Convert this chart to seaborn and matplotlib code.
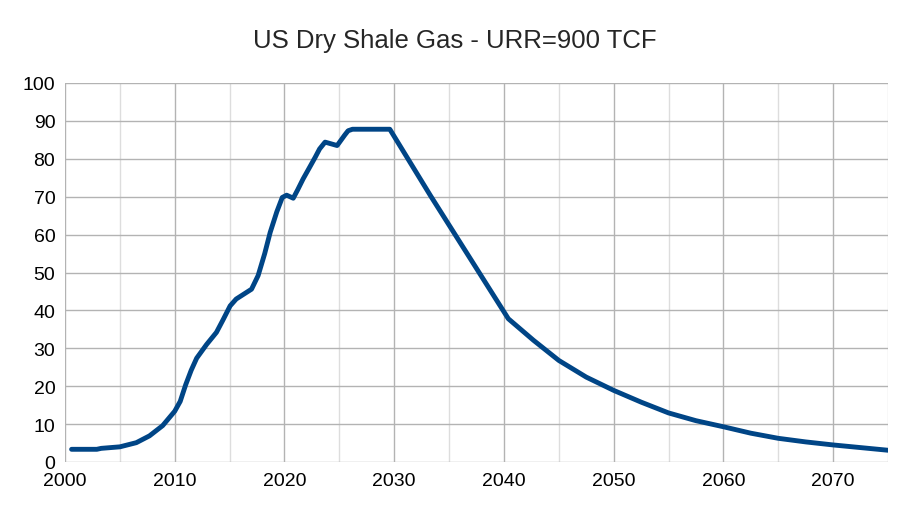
import matplotlib
matplotlib.use("Agg")
import matplotlib.pyplot as plt
import pandas as pd
import seaborn as sns
from matplotlib.ticker import MultipleLocator

TITLE = "US Dry Shale Gas - URR=900 TCF"
LINE_COLOR = "#004586"

# values
YEARS = [2000.6, 2002.9, 2003.3, 2005.0, 2006.5, 2007.7, 2008.9, 2010.0,
         2010.5, 2011.0, 2011.5, 2012.0, 2012.9, 2013.8, 2014.4, 2015.05, 2015.6,
         2016.3, 2017.0, 2017.6, 2018.2, 2018.7, 2019.3, 2019.8, 2020.2, 2020.8,
         2021.2, 2021.7, 2022.3, 2022.8, 2023.2, 2023.7, 2024.8, 2025.5, 2025.8,
         2026.2, 2029.6, 2033.3, 2040.4, 2042.7, 2045.0, 2047.5, 2050.0, 2052.5,
         2055.0, 2057.5, 2060.0, 2062.5, 2065.0, 2067.5, 2070.0, 2072.5, 2075.0]
GAS = [3.35, 3.35, 3.6, 4.0, 5.1, 6.9, 9.6, 13.4,
       16.0, 20.4, 24.2, 27.4, 31.0, 34.2, 37.5, 41.2, 43.0,
       44.3, 45.6, 49.2, 55.0, 60.6, 66.0, 69.8, 70.4, 69.6,
       71.8, 74.7, 77.8, 80.4, 82.6, 84.4, 83.5, 86.3, 87.4,
       87.8, 87.8, 70.3, 37.8, 32.1, 26.8, 22.4, 18.9, 15.8,
       12.95, 10.9, 9.3, 7.6, 6.25, 5.3, 4.5, 3.8, 3.1]

df = pd.DataFrame({"year": YEARS, "gas": GAS})

sns.set_style("white")
plt.rcParams["font.family"] = ["Liberation Sans", "DejaVu Sans"]

fig = plt.figure(figsize=(9.07, 5.10), dpi=100)
ax = fig.add_axes([65 / 907, 47 / 510, 823 / 907, 379 / 510])

sns.lineplot(data=df, x="year", y="gas", ax=ax, color=LINE_COLOR,
             linewidth=3.5, solid_joinstyle="round", zorder=3)

ax.set_xlim(2000, 2075)
ax.set_ylim(0, 100)
ax.xaxis.set_major_locator(MultipleLocator(10))
ax.xaxis.set_minor_locator(MultipleLocator(5))
ax.yaxis.set_major_locator(MultipleLocator(10))
ax.grid(which="major", color="#b3b3b3", linewidth=1.0)
ax.grid(which="minor", axis="x", color="#dddddd", linewidth=1.0)
for side in ax.spines.values():
    side.set_visible(False)
ax.tick_params(which="major", length=5, width=1, color="#b3b3b3",
               labelsize=14, pad=2, labelcolor="black")
ax.tick_params(which="minor", length=0)
ax.set_xlabel("")
ax.set_ylabel("")

fig.text(455 / 907, 1 - 41 / 510, TITLE, ha="center", va="center", fontsize=18.5)

fig.savefig("out.png", dpi=100)
